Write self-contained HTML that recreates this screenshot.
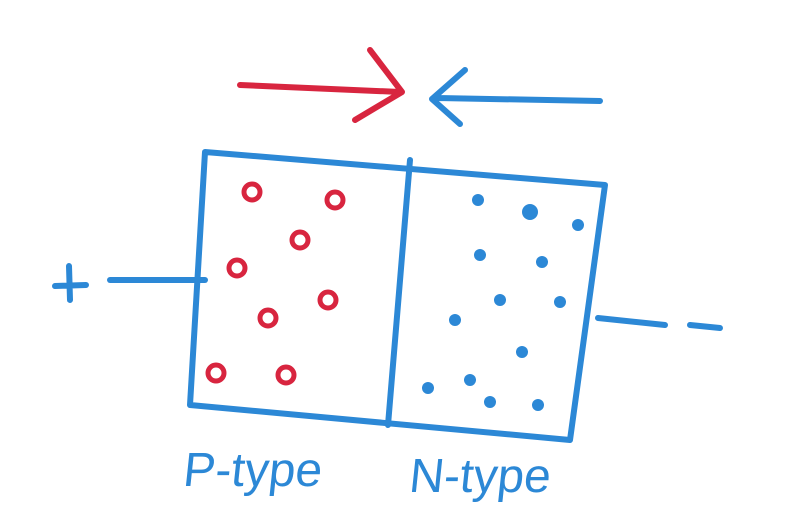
<!DOCTYPE html>
<html><head><meta charset="utf-8"><style>
html,body{margin:0;padding:0;background:#fff;}
svg{display:block;}
</style></head><body>
<svg width="785" height="530" viewBox="0 0 785 530">
<g fill="none" stroke="#2c88d6" stroke-width="6" stroke-linecap="round" stroke-linejoin="round">
  <path d="M205 152 L605 185 L570 440 L190 405 Z"/>
  <path d="M410 160 L388 425"/>
  <path d="M110 280 L205 280"/>
  <path d="M598 318 L665 325"/>
  <path d="M55 286 L86 285 M69 266 L70 300"/>
  <path d="M690 325 L720 328"/>
  <path d="M600 101 L438 98 M465 70 L432 99 L460 124"/>
</g>
<g fill="none" stroke="#d8253f" stroke-width="6" stroke-linecap="round" stroke-linejoin="round">
  <path d="M240 85 L400 92 M370 50 L402 92 L355 120"/>
</g>
<g fill="none" stroke="#d8253f" stroke-width="5">
  <circle cx="252" cy="192" r="8"/><circle cx="335" cy="200" r="8"/><circle cx="300" cy="240" r="8"/>
  <circle cx="237" cy="268" r="8"/><circle cx="328" cy="300" r="8"/><circle cx="268" cy="318" r="8"/>
  <circle cx="216" cy="373" r="8"/><circle cx="286" cy="375" r="8"/>
</g>
<g fill="#2c88d6">
  <circle cx="478" cy="200" r="6"/><circle cx="530" cy="212" r="8"/><circle cx="578" cy="225" r="6"/>
  <circle cx="480" cy="255" r="6"/><circle cx="542" cy="262" r="6"/><circle cx="500" cy="300" r="6"/>
  <circle cx="560" cy="302" r="6"/><circle cx="455" cy="320" r="6"/><circle cx="522" cy="352" r="6"/>
  <circle cx="470" cy="380" r="6"/><circle cx="428" cy="388" r="6"/><circle cx="490" cy="402" r="6"/>
  <circle cx="538" cy="405" r="6"/>
</g>
<text x="182" y="486" font-family="Liberation Sans, sans-serif" font-size="48" fill="#2c88d6" transform="skewX(-6)" transform-origin="182 486">P-type</text>
<text x="408" y="492" font-family="Liberation Sans, sans-serif" font-size="48" fill="#2c88d6" transform="skewX(-6)" transform-origin="408 492">N-type</text>
</svg>
</body></html>
